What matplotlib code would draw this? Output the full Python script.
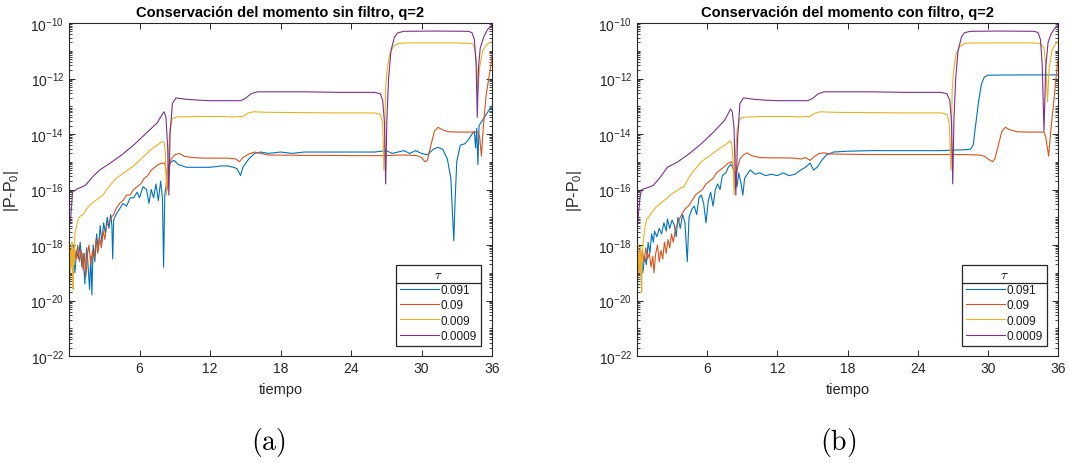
import numpy as np
import matplotlib
matplotlib.use("Agg")
import matplotlib.pyplot as plt
from matplotlib.ticker import LogLocator, FixedLocator, NullFormatter
from matplotlib.lines import Line2D

# ---------------- data (time, log10|P-P0|) ----------------
# Panel (a): sin filtro
a_t_091 = [0.25, 0.4, 0.5, 0.65, 0.8, 0.95, 1.1, 1.2, 1.35, 1.5, 1.6, 1.75, 1.85, 1.95, 2.05, 2.2, 2.35, 2.5, 2.65,
           2.8, 2.95, 3.1, 3.25, 3.4, 3.55, 3.65, 3.72, 3.8, 4.0, 4.3, 4.6, 4.9, 5.2, 5.5, 5.8, 6.0, 6.3, 6.6, 6.8,
           7.0, 7.2, 7.4, 7.6, 7.8, 7.95, 8.05, 8.15, 8.35, 8.5, 8.7, 8.95, 9.3, 10, 11, 12, 13, 13.5, 14.0, 14.3,
           14.6, 14.8, 15.3, 15.8, 16.3, 17, 18, 19, 20, 22, 24, 26, 27, 27.5, 28, 28.5, 29, 29.5, 30, 30.5, 31,
           31.4, 31.8, 32.2, 32.5, 32.65, 32.75, 32.85, 33.0, 33.3, 33.7, 34.0, 34.3, 34.5, 34.6, 34.7, 34.8, 34.9,
           35.2, 35.5, 35.8, 36]
a_e_091 = [-18.6, -18.0, -19.0, -18.2, -18.5, -17.9, -18.8, -18.3, -19.4, -18.1, -18.6, -19.6, -18.4, -19.8, -18.0,
           -18.6, -17.6, -18.2, -17.3, -17.9, -17.2, -17.6, -17.0, -17.4, -16.9, -17.3, -18.5, -17.1, -16.9, -16.7,
           -16.5, -16.6, -16.3, -16.3, -16.1, -16.3, -15.9, -16.0, -16.5, -16.0, -16.3, -15.8, -16.4, -15.7, -16.3,
           -18.8, -16.2, -15.6, -15.1, -15.0, -14.95, -15.1, -15.2, -15.2, -15.2, -15.15, -15.15, -15.2, -15.25,
           -15.5, -15.2, -14.9, -14.7, -14.65, -14.7, -14.65, -14.7, -14.65, -14.65, -14.65, -14.65, -14.6, -14.7,
           -14.65, -14.6, -14.7, -14.6, -14.7, -14.75, -14.55, -14.48, -14.55, -14.9, -15.6, -17.0, -17.85, -16.5,
           -15.0, -14.4, -14.35, -14.2, -14.0, -13.9, -14.5, -13.8, -15.1, -13.7, -13.5, -13.3, -13.1, -13.0]

a_t_09 = [0.02, 0.15, 0.3, 0.45, 0.6, 0.75, 0.9, 1.05, 1.2, 1.3, 1.45, 1.55, 1.7, 1.85, 2.0, 2.15, 2.3, 2.45, 2.6,
          2.75, 2.9, 3.05, 3.2, 3.4, 3.6, 3.8, 4.0, 4.3, 4.6, 4.9, 5.2, 5.5, 5.8, 6.1, 6.4, 6.7, 7.0, 7.3, 7.6, 7.9,
          8.15, 8.3, 8.4, 8.5, 8.7, 9.0, 9.4, 9.8, 10.5, 11.5, 12.5, 13.5, 14.2, 14.5, 14.8, 15.3, 15.8, 16.3, 17,
          18, 20, 22, 24, 26, 27, 28, 29, 29.6, 30.0, 30.3, 30.5, 30.8, 31.1, 31.4, 31.8, 32.3, 33, 34, 34.8, 34.95,
          35.1, 35.25, 35.5, 35.8, 36]
a_e_09 = [-19.7, -18.4, -18.7, -18.1, -18.5, -18.0, -18.6, -18.2, -18.9, -18.3, -19.1, -18.4, -18.0, -18.7, -18.2,
          -18.5, -17.8, -18.3, -17.7, -18.1, -17.5, -17.8, -17.3, -17.2, -17.0, -16.9, -16.7, -16.5, -16.4, -16.2,
          -16.2, -16.0, -15.9, -15.8, -15.6, -15.5, -15.3, -15.2, -15.1, -15.05, -15.05, -15.4, -16.0, -15.3, -14.9,
          -14.75, -14.7, -14.8, -14.85, -14.87, -14.87, -14.87, -14.9, -15.0, -14.85, -14.72, -14.65, -14.7, -14.76,
          -14.76, -14.77, -14.77, -14.78, -14.78, -14.78, -14.76, -14.76, -14.78, -14.85, -15.0, -14.95, -14.4,
          -13.9, -13.76, -13.85, -13.92, -13.93, -13.93, -13.93, -14.1, -14.8, -13.8, -12.6, -11.8, -11.2]

a_t_009 = [0.0, 0.05, 0.1, 0.15, 0.2, 0.25, 0.3, 0.35, 0.4, 0.45, 0.5, 0.6, 0.7, 0.85, 1.0, 1.2, 1.5, 1.8, 2.1, 2.4,
           2.6, 2.9, 3.2, 3.5, 3.8, 4.0, 4.5, 5.0, 5.5, 6.0, 6.5, 7.0, 7.5, 7.9, 8.1, 8.2, 8.3, 8.4, 8.6, 8.8, 9.2,
           10, 11, 12, 13, 14, 14.8, 15.2, 15.7, 17, 20, 23, 26, 26.5, 26.7, 26.8, 26.95, 27.1, 27.3, 27.6, 28.0,
           28.5, 30, 33, 34.3, 34.5, 34.65, 34.8, 34.95, 35.2, 35.6, 36]
a_e_009 = [-18.6, -18.0, -19.0, -18.2, -18.8, -17.9, -18.5, -19.6, -18.1, -18.7, -17.6, -17.4, -17.2, -17.0, -16.95,
           -16.9, -16.7, -16.55, -16.45, -16.35, -16.3, -16.2, -16.0, -15.85, -15.7, -15.6, -15.45, -15.3, -15.15,
           -14.95, -14.75, -14.55, -14.4, -14.28, -14.3, -14.7, -16.2, -15.2, -13.8, -13.45, -13.38, -13.38, -13.37,
           -13.37, -13.37, -13.38, -13.37, -13.25, -13.2, -13.22, -13.23, -13.24, -13.24, -13.3, -13.6, -15.3,
           -12.3, -11.6, -11.1, -10.85, -10.74, -10.72, -10.72, -10.72, -10.74, -10.85, -11.3, -12.45, -11.6,
           -11.0, -10.75, -10.68]

a_t_0009 = [0.0, 0.15, 0.3, 0.6, 1.4, 2.0, 2.6, 3.5, 4.5, 5.5, 6.5, 7.5, 8.0, 8.1, 8.25, 8.4, 8.5, 8.6, 8.8, 9.1,
            9.5, 10, 11, 12, 13, 14, 14.6, 15.0, 15.5, 16.0, 17, 20, 23, 26, 26.5, 26.7, 26.85, 26.95, 27.05, 27.2,
            27.4, 27.7, 28.0, 28.5, 31, 34, 34.3, 34.5, 34.65, 34.75, 34.85, 35.0, 35.3, 35.6, 36]
a_e_0009 = [-17.4, -17.0, -16.1, -16.0, -15.85, -15.55, -15.3, -15.05, -14.75, -14.4, -14.0, -13.6, -13.25, -13.2,
            -13.4, -14.5, -16.2, -14.0, -12.9, -12.7, -12.72, -12.75, -12.78, -12.8, -12.8, -12.8, -12.8, -12.72,
            -12.55, -12.48, -12.48, -12.48, -12.5, -12.5, -12.55, -12.8, -13.6, -15.8, -13.5, -12.0, -11.0, -10.5,
            -10.35, -10.3, -10.29, -10.3, -10.35, -10.6, -11.5, -13.4, -11.6, -10.9, -10.5, -10.25, -10.07]

# Panel (b): con filtro
b_t_091 = [0.2, 0.35, 0.5, 0.65, 0.8, 0.95, 1.1, 1.25, 1.4, 1.5, 1.7, 1.9, 2.1, 2.3, 2.5, 2.6, 2.8, 3.0, 3.2, 3.35,
           3.5, 3.7, 3.9, 4.1, 4.3, 4.45, 4.7, 4.9, 5.1, 5.3, 5.5, 5.7, 5.9, 6.1, 6.3, 6.5, 6.7, 6.9, 7.1, 7.3, 7.6,
           7.8, 8.0, 8.2, 8.4, 8.55, 8.7, 8.9, 9.05, 9.2, 9.5, 9.7, 10.1, 10.5, 11, 11.5, 12, 12.5, 13, 13.5, 14,
           14.4, 14.8, 15.1, 15.4, 15.8, 16.2, 16.8, 18, 20, 22, 24, 26, 27, 28, 28.5, 28.75, 28.95, 29.2, 29.45,
           29.7, 30.0, 33, 36]
b_e_091 = [-18.9, -18.3, -19.0, -18.4, -18.7, -17.9, -18.3, -17.6, -17.9, -17.5, -17.7, -17.4, -17.6, -17.2, -17.5,
           -17.06, -17.4, -17.1, -17.3, -17.7, -17.0, -17.4, -16.9, -17.2, -18.6, -17.0, -16.7, -16.6, -16.9, -16.3,
           -16.2, -16.5, -17.2, -16.4, -16.1, -16.6, -16.0, -15.8, -16.0, -15.5, -15.4, -15.2, -15.1, -15.2, -15.5,
           -15.9, -15.4, -15.8, -16.2, -15.6, -15.4, -15.3, -15.45, -15.4, -15.5, -15.45, -15.5, -15.4, -15.5,
           -15.45, -15.3, -15.2, -15.05, -15.3, -15.2, -14.95, -14.75, -14.65, -14.62, -14.6, -14.6, -14.6, -14.6,
           -14.58, -14.57, -14.55, -14.4, -13.7, -12.85, -12.2, -11.95, -11.88, -11.87, -11.87]

b_t_09 = [0.02, 0.15, 0.3, 0.45, 0.6, 0.75, 0.9, 1.05, 1.2, 1.35, 1.45, 1.6, 1.75, 1.9, 2.05, 2.2, 2.35, 2.5, 2.65,
          2.8, 2.95, 3.1, 3.3, 3.5, 3.7, 3.9, 4.1, 4.4, 4.7, 5.0, 5.3, 5.6, 5.9, 6.2, 6.5, 6.8, 7.1, 7.4, 7.8, 8.1,
          8.25, 8.4, 8.55, 8.8, 9.1, 9.4, 9.8, 10.5, 11.5, 12.5, 13.5, 14.0, 14.4, 14.8, 15.2, 15.6, 16, 16.5, 18,
          20, 22, 24, 26, 28, 29.3, 29.7, 30.1, 30.4, 30.6, 30.9, 31.2, 31.5, 31.9, 32.5, 33.5, 34.8, 34.95, 35.2,
          35.4, 35.6, 35.8, 36]
b_e_09 = [-19.3, -18.5, -18.9, -18.2, -18.6, -18.1, -18.5, -18.3, -18.8, -18.4, -19.0, -18.3, -18.0, -18.6, -18.2,
          -18.5, -17.9, -18.3, -17.8, -18.1, -17.6, -17.9, -17.4, -17.2, -17.0, -16.85, -16.7, -16.6, -16.4, -16.2,
          -16.1, -16.0, -15.8, -15.7, -15.6, -15.4, -15.3, -15.2, -15.05, -15.0, -15.3, -16.0, -15.3, -14.9, -14.75,
          -14.68, -14.78, -14.85, -14.86, -14.86, -14.87, -14.9, -14.85, -14.95, -14.8, -14.7, -14.68, -14.72,
          -14.73, -14.74, -14.74, -14.74, -14.74, -14.74, -14.76, -14.8, -14.92, -15.0, -14.9, -14.4, -13.9, -13.76,
          -13.85, -13.92, -13.93, -13.93, -14.1, -14.8, -13.8, -13.0, -12.1, -11.3]

b_t_009 = [0.0, 0.05, 0.1, 0.15, 0.2, 0.25, 0.3, 0.35, 0.4, 0.45, 0.55, 0.7, 0.85, 1.0, 1.3, 1.6, 2.0, 2.3, 2.6, 3.0,
           3.4, 3.7, 4.0, 4.4, 4.8, 5.2, 5.5, 6.0, 6.5, 6.8, 7.2, 7.6, 7.95, 8.1, 8.2, 8.3, 8.4, 8.55, 8.75, 9.0,
           10, 11, 12, 13, 14, 14.8, 15.2, 15.7, 17, 20, 23, 26, 26.5, 26.7, 26.85, 26.95, 27.1, 27.3, 27.6, 28,
           28.5, 31, 34, 34.5, 34.8, 34.95, 35.1, 35.25, 35.5, 35.8, 36]
b_e_009 = [-18.2, -18.9, -18.0, -18.7, -18.3, -19.0, -18.1, -18.6, -19.7, -18.2, -17.8, -17.3, -17.05, -17.0, -16.8,
           -16.65, -16.5, -16.4, -16.3, -16.15, -16.05, -15.95, -15.9, -15.6, -15.35, -15.15, -15.0, -14.85, -14.7,
           -14.6, -14.48, -14.38, -14.25, -14.35, -14.9, -16.2, -15.0, -13.9, -13.5, -13.4, -13.38, -13.37, -13.37,
           -13.37, -13.38, -13.37, -13.25, -13.2, -13.22, -13.23, -13.24, -13.24, -13.3, -13.6, -15.3, -12.4, -11.6,
           -11.1, -10.85, -10.74, -10.72, -10.72, -10.72, -10.75, -10.9, -11.5, -12.85, -11.6, -10.95, -10.75,
           -10.68]

b_t_0009 = [0.0, 0.1, 0.25, 0.4, 0.8, 1.4, 2.0, 2.6, 3.5, 4.5, 5.5, 6.5, 7.5, 8.0, 8.15, 8.3, 8.45, 8.6, 8.8, 9.1,
            9.5, 10, 11, 12, 13, 14, 14.6, 15.0, 15.5, 16.0, 17, 20, 23, 26, 26.5, 26.75, 26.9, 27.0, 27.1, 27.25,
            27.45, 27.75, 28.0, 28.5, 31, 34, 34.3, 34.5, 34.65, 34.8, 34.95, 35.15, 35.4, 35.7, 36]
b_e_0009 = [-17.4, -17.0, -16.3, -16.0, -15.95, -15.85, -15.55, -15.2, -15.0, -14.7, -14.35, -13.95, -13.5, -13.1,
            -13.2, -13.8, -16.2, -14.2, -12.9, -12.7, -12.72, -12.75, -12.78, -12.8, -12.8, -12.8, -12.8, -12.72,
            -12.55, -12.48, -12.48, -12.48, -12.5, -12.5, -12.55, -12.8, -13.6, -15.8, -13.5, -12.0, -11.0, -10.5,
            -10.35, -10.3, -10.29, -10.3, -10.35, -10.6, -11.5, -13.9, -11.6, -10.7, -10.4, -10.2, -10.07]

legend_labels = ["0.091", "0.09", "0.009", "0.0009"]
titles = ["Conservación del momento sin filtro, q=2", "Conservación del momento con filtro, q=2"]
x_ticks = [6, 12, 18, 24, 30, 36]
y_tick_exps = [-22, -20, -18, -16, -14, -12, -10]
sublabels = ["(a)", "(b)"]

colors = ["#0072BD", "#D95319", "#EDB120", "#7E2F8E"]
axc = "#262626"

plt.rcParams["font.family"] = ["Liberation Sans", "DejaVu Sans"]

fig = plt.figure(figsize=(10.69, 4.64), dpi=100)
W, H = 1069, 464
ax_a = fig.add_axes([69 / W, 1 - 357 / H, 423 / W, 333 / H])
ax_b = fig.add_axes([637 / W, 1 - 357 / H, 421 / W, 333 / H])

panels = [
    (ax_a, [(a_t_091, a_e_091), (a_t_09, a_e_09), (a_t_009, a_e_009), (a_t_0009, a_e_0009)], -0.114),
    (ax_b, [(b_t_091, b_e_091), (b_t_09, b_e_09), (b_t_009, b_e_009), (b_t_0009, b_e_0009)], -0.126),
]

legends = []
for i, (ax, series, ylab_x) in enumerate(panels):
    for (t, e), c, lab in zip(series, colors, legend_labels):
        ax.plot(t, 10.0 ** np.asarray(e), color=c, lw=0.8, label=lab)
    ax.set_yscale("log")
    ax.set_xlim(0, 36)
    ax.set_ylim(1e-22, 1e-10)
    ax.xaxis.set_major_locator(FixedLocator(x_ticks))
    ax.yaxis.set_major_locator(FixedLocator([10.0 ** k for k in y_tick_exps]))
    ax.yaxis.set_minor_locator(LogLocator(base=10, subs=np.arange(1, 10), numticks=200))
    ax.yaxis.set_minor_formatter(NullFormatter())
    ax.tick_params(which="both", direction="in", top=True, right=True, colors=axc, labelsize=10)
    ax.tick_params(which="major", length=4.5, width=0.7)
    ax.tick_params(which="minor", length=2.2, width=0.6)
    for s in ax.spines.values():
        s.set_color(axc)
        s.set_linewidth(0.8)
    ax.set_title(titles[i], fontsize=10.5, fontweight="bold", color="black", pad=5)
    ax.set_xlabel("tiempo", fontsize=10.5, color=axc, labelpad=5)
    ax.set_ylabel("|P-P$_{\\mathregular{0}}$|", fontsize=11.5, color=axc)
    ax.yaxis.set_label_coords(ylab_x, 0.5)
    leg = ax.legend(loc="lower right", bbox_to_anchor=(0.974, 0.03), fontsize=8.5, title="$\\tau$",
                    title_fontsize=9.5, frameon=True, fancybox=False, edgecolor=axc, framealpha=1,
                    handlelength=3.3, handletextpad=0.15, borderpad=0.35, labelspacing=0.28,
                    borderaxespad=0)
    leg.get_frame().set_linewidth(0.9)
    leg.get_title().set_math_fontfamily("cm")
    for txt in leg.get_texts():
        txt.set_color("#1a1a1a")
    legends.append(leg)

fig.text(268 / W, 1 - 443 / H, "$\\mathrm{(a)}$", math_fontfamily="cm", fontsize=20, ha="center", va="center")
fig.text(838 / W, 1 - 443 / H, "$\\mathrm{(b)}$", math_fontfamily="cm", fontsize=20, ha="center", va="center")

# divider line under the legend title (MATLAB-style)
fig.canvas.draw()
rend = fig.canvas.get_renderer()
for leg in legends:
    fb = leg.get_frame().get_window_extent(rend)
    tb = leg.get_title().get_window_extent(rend)
    ydiv = tb.y0 - 2
    fig.add_artist(Line2D([fb.x0 / W, fb.x1 / W], [ydiv / H, ydiv / H], transform=fig.transFigure,
                          color=axc, lw=0.9))

fig.savefig("out.png", dpi=100, facecolor="white")
